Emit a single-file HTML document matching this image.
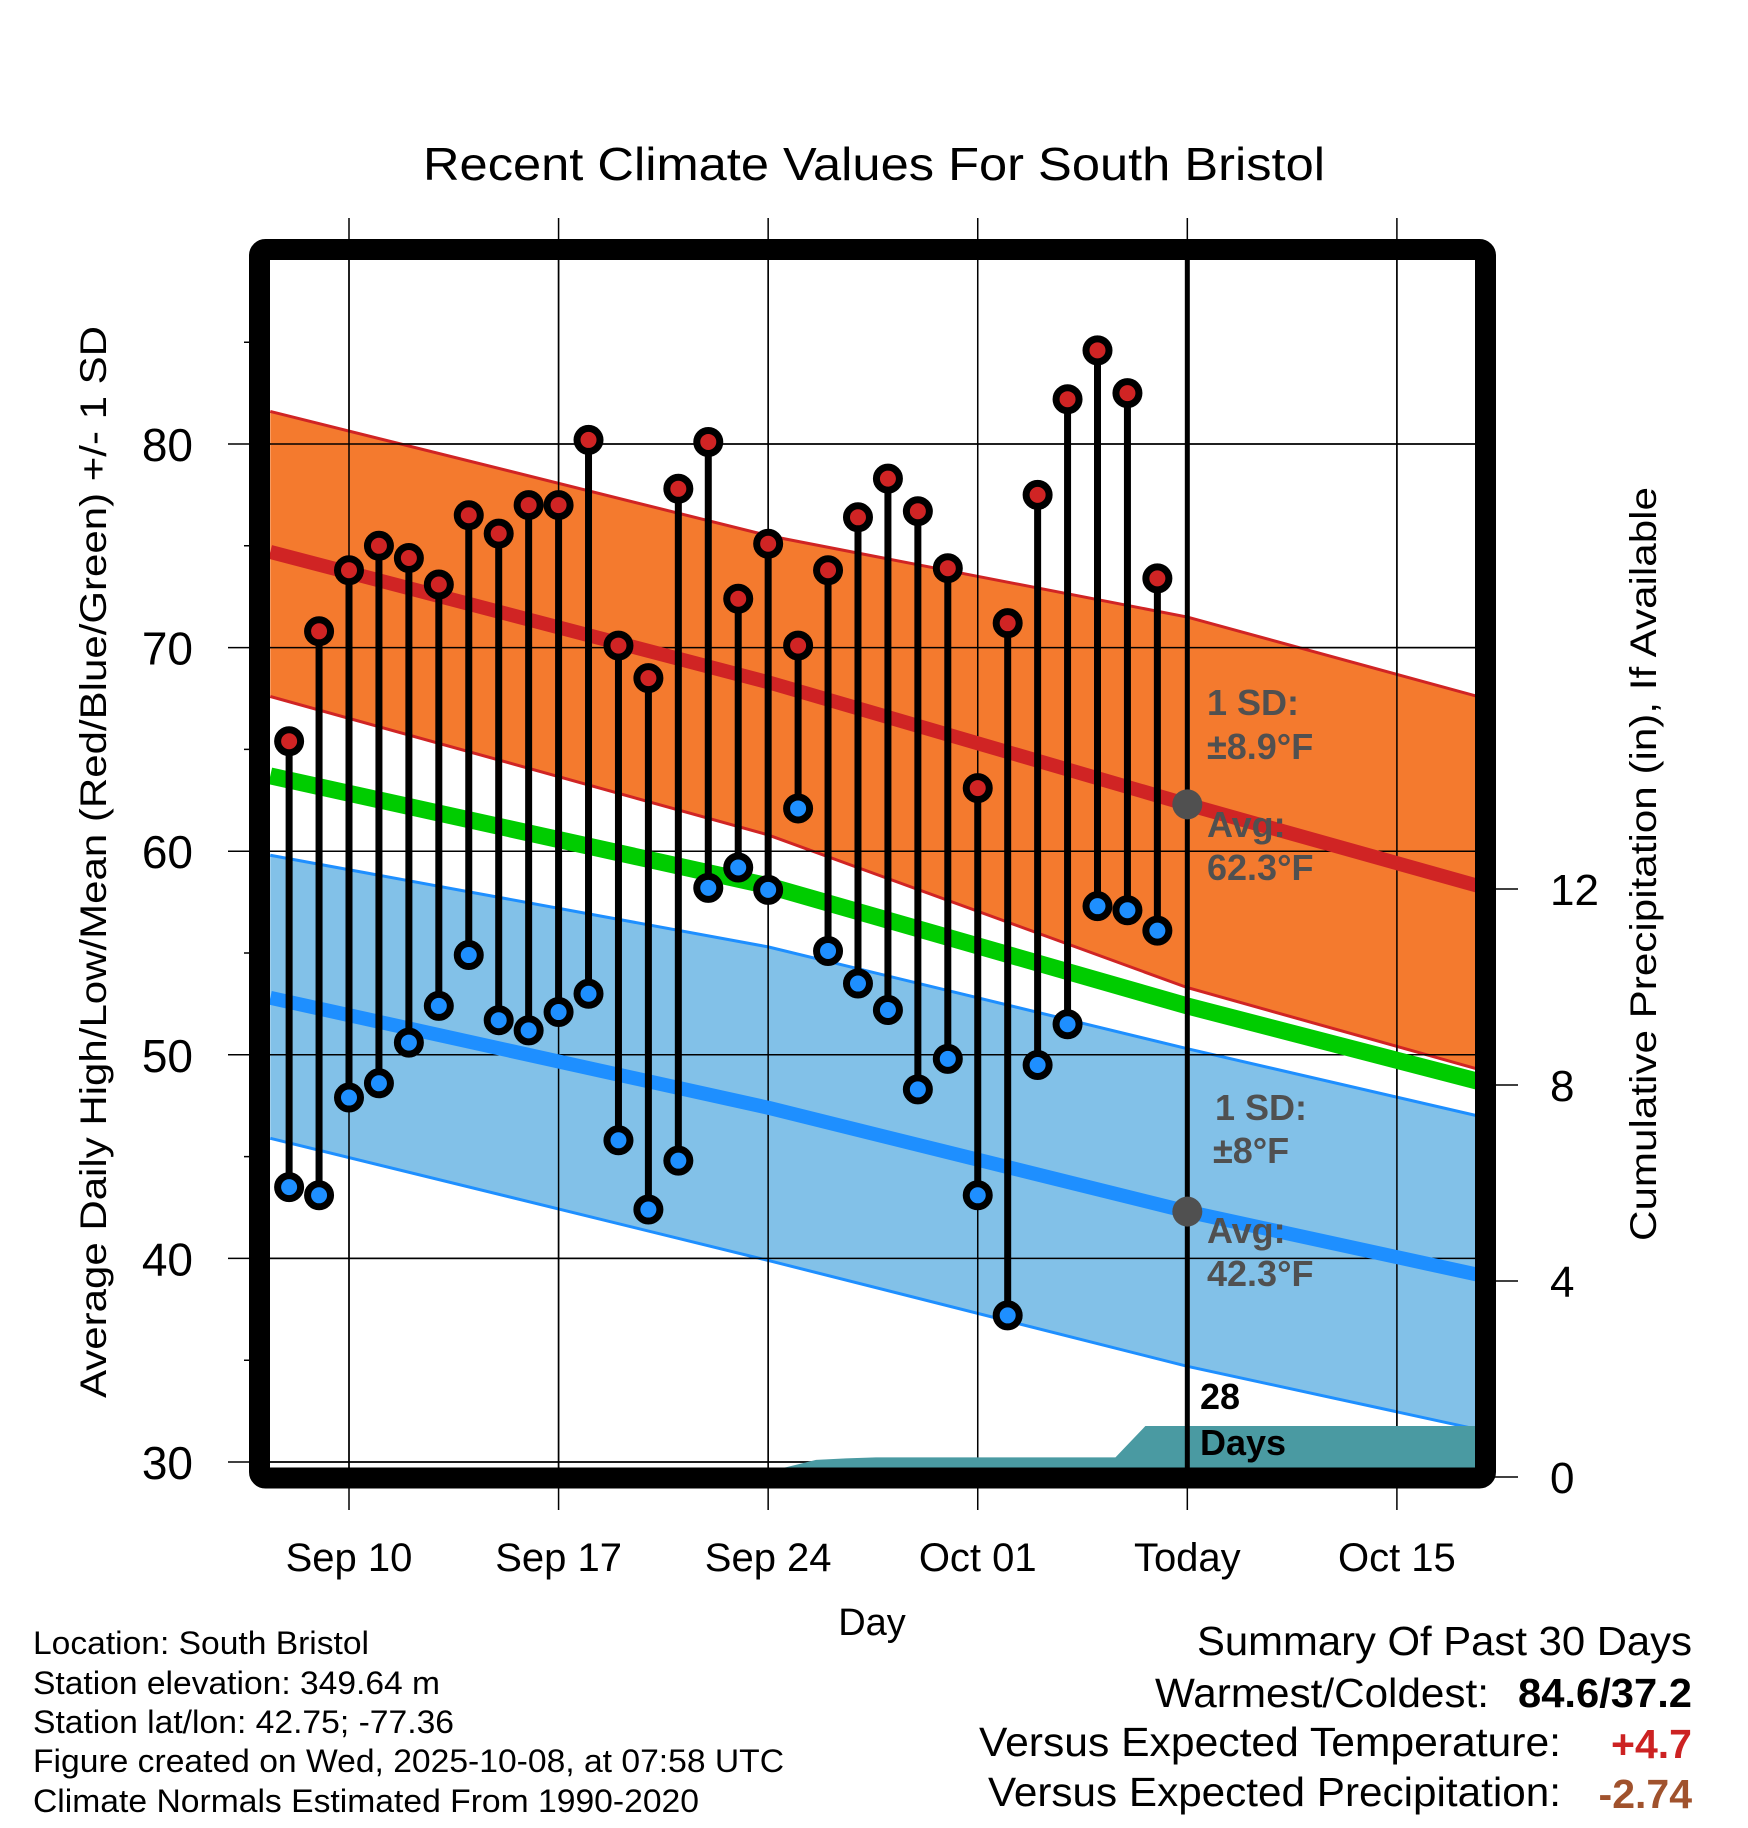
<!DOCTYPE html>
<html><head><meta charset="utf-8"><style>
html,body{margin:0;padding:0;background:#fff;}
svg{display:block;font-family:"Liberation Sans",Arial,sans-serif;}
</style></head><body>
<svg id="chart" width="1748" height="1828" viewBox="0 0 1748 1828" xmlns="http://www.w3.org/2000/svg">
<defs><clipPath id="plotclip"><rect x="270" y="260" width="1208" height="1208"/></clipPath></defs>
<rect x="0" y="0" width="1748" height="1828" fill="#fff"/>
<text x="874" y="180" font-size="46" text-anchor="middle" textLength="902" lengthAdjust="spacingAndGlyphs">Recent Climate Values For South Bristol</text>
<g id="grid"></g>
<g id="plot" clip-path="url(#plotclip)"></g>
<g id="marks"></g>
<rect x="259.5" y="249.5" width="1226" height="1228.5" fill="none" stroke="#000" stroke-width="21" rx="6"/>
<g id="axes"></g>
<text transform="translate(106,862) rotate(-90)" font-size="37" text-anchor="middle" textLength="1072" lengthAdjust="spacingAndGlyphs">Average Daily High/Low/Mean (Red/Blue/Green) +/- 1 SD</text>
<text transform="translate(1656,864) rotate(-90)" font-size="37" text-anchor="middle" textLength="754" lengthAdjust="spacingAndGlyphs">Cumulative Precipitation (in), If Available</text>
<text x="872" y="1635" font-size="38" text-anchor="middle">Day</text>
<g font-size="32">
<text x="33" y="1654" textLength="336" lengthAdjust="spacingAndGlyphs">Location: South Bristol</text>
<text x="33" y="1694" textLength="407" lengthAdjust="spacingAndGlyphs">Station elevation: 349.64 m</text>
<text x="33" y="1733" textLength="421" lengthAdjust="spacingAndGlyphs">Station lat/lon: 42.75; -77.36</text>
<text x="33" y="1772" textLength="751" lengthAdjust="spacingAndGlyphs">Figure created on Wed, 2025-10-08, at 07:58 UTC</text>
<text x="33" y="1812" textLength="666" lengthAdjust="spacingAndGlyphs">Climate Normals Estimated From 1990-2020</text>
</g>
<g font-size="41">
<text x="1692" y="1655" text-anchor="end" textLength="495" lengthAdjust="spacingAndGlyphs">Summary Of Past 30 Days</text>
<text x="1489" y="1707" text-anchor="end" textLength="334" lengthAdjust="spacingAndGlyphs">Warmest/Coldest:</text>
<text x="1692" y="1707" text-anchor="end" font-weight="bold" textLength="174" lengthAdjust="spacingAndGlyphs">84.6/37.2</text>
<text x="1561" y="1756" text-anchor="end" textLength="582" lengthAdjust="spacingAndGlyphs">Versus Expected Temperature:</text>
<text x="1692" y="1758" text-anchor="end" font-weight="bold" fill="#cc2222">+4.7</text>
<text x="1561" y="1806" text-anchor="end" textLength="573" lengthAdjust="spacingAndGlyphs">Versus Expected Precipitation:</text>
<text x="1692" y="1808" text-anchor="end" font-weight="bold" fill="#a0522d">-2.74</text>
</g>
</svg>
<script>
// ---- data ----
const highs = [65.4,70.8,73.8,75.0,74.4,73.1,76.5,75.6,77.0,77.0,80.2,70.1,68.5,77.8,80.1,72.4,75.1,70.1,73.8,76.4,78.3,76.7,73.9,63.1,71.2,77.5,82.2,84.6,82.5,73.4];
const lows  = [43.5,43.1,47.9,48.6,50.6,52.4,54.9,51.7,51.2,52.1,53.0,45.8,42.4,44.8,58.2,59.2,58.1,62.1,55.1,53.5,52.2,48.3,49.8,43.1,37.2,49.5,51.5,57.3,57.1,56.1];
const firstDay = -2; // Sep 8 relative to Sep 10
const normDays = [-2.63, 14, 28, 37.7];
const redUpper = [81.6, 75.5, 71.5, 67.6];
const redAvg   = [74.7, 68.3, 62.3, 58.3];
const redLower = [67.6, 60.8, 53.3, 49.3];
const greenAvg = [63.7, 58.3, 52.4, 48.7];
const blueUpper= [59.8, 55.3, 50.3, 47.0];
const blueAvg  = [52.8, 47.4, 42.3, 39.2];
const blueLower= [45.9, 39.9, 34.7, 31.6];
const precip = [0,0,0,0,0,0,0,0,0,0,0,0,0,0,0,0.1,0.2,0.35,0.38,0.4,0.4,0.4,0.4,0.4,0.4,0.4,0.4,0.4,1.04,1.04];
const xTickDays = [0,7,14,21,28,35];
const xTickLabels = ["Sep 10","Sep 17","Sep 24","Oct 01","Today","Oct 15"];
const yTicks = [30,40,50,60,70,80];
const yMinor = [35,45,55,65,75,85];
const y2Ticks = [0,4,8,12];
const todayDay = 28;

// ---- scales ----
const X = d => 349 + d*29.94;
const Y = v => 444 + (80 - v)*20.36;
const Y2 = p => 1477 - p*49;
const NS = "http://www.w3.org/2000/svg";
function mk(tag, attrs, parent){const e=document.createElementNS(NS,tag);for(const k in attrs)e.setAttribute(k,attrs[k]);parent.appendChild(e);return e;}
const grid=document.getElementById('grid'), plot=document.getElementById('plot'), marks=document.getElementById('marks'), axes=document.getElementById('axes');

xTickDays.forEach((d,i)=>{
  const l=mk('line',{x1:X(d),x2:X(d),y1:218,y2:1510,stroke:'#000','stroke-width':1.5},grid);
  
  
  const t=mk('text',{x:X(d),y:1571,'font-size':40,'text-anchor':'middle'},axes);
  t.textContent=xTickLabels[i];
  
  
});

function pts(arrU, arrL){let s=normDays.map((d,i)=>X(d)+','+Y(arrU[i]));if(arrL){s=s.concat(normDays.slice().reverse().map((d,j)=>{const i=normDays.length-1-j;return X(d)+','+Y(arrL[i]);}));}return s.join(' ');}
const bb=mk('polygon',{points:pts(blueUpper,blueLower),fill:'#82c1e8'},plot);


[blueUpper,blueLower].forEach(a=>{const l=mk('polyline',{points:pts(a),fill:'none',stroke:'#1e8fff','stroke-width':3},plot);

});
const rb=mk('polygon',{points:pts(redUpper,redLower),fill:'#f47a2e'},plot);


[redUpper,redLower].forEach(a=>{const l=mk('polyline',{points:pts(a),fill:'none',stroke:'#d02424','stroke-width':3},plot);

});
yTicks.forEach(v=>{
  const l=mk('line',{x1:228,x2:1478,y1:Y(v),y2:Y(v),stroke:'#000','stroke-width':1.5},grid);
  
  
  const t=mk('text',{x:193,y:Y(v)+17,'font-size':46,'text-anchor':'end'},axes);
  t.textContent=v;
  
  
});
yMinor.forEach(v=>{const l=mk('line',{x1:244,x2:262,y1:Y(v),y2:Y(v),stroke:'#000','stroke-width':1.5},grid);

});
y2Ticks.forEach(p=>{
  const l=mk('line',{x1:1490,x2:1518,y1:Y2(p),y2:Y2(p),stroke:'#000','stroke-width':1.5},axes);
  
  
  const t=mk('text',{x:1550,y:Y2(p)+16,'font-size':44},axes);
  t.textContent=p;
  
  
});
yTicks.forEach(v=>{mk('line',{x1:270,x2:1478,y1:Y(v),y2:Y(v),stroke:'#000','stroke-width':1.5},plot);});
xTickDays.forEach(d=>{mk('line',{x1:X(d),x2:X(d),y1:260,y2:1468,stroke:'#000','stroke-width':1.5},plot);});
const gl=mk('polyline',{points:pts(greenAvg),fill:'none',stroke:'#00cc00','stroke-width':17},plot);


const rl=mk('polyline',{points:pts(redAvg),fill:'none',stroke:'#d02424','stroke-width':14},plot);


const bl=mk('polyline',{points:pts(blueAvg),fill:'none',stroke:'#1e8fff','stroke-width':14},plot);


let pp=[X(firstDay+0.6)+','+Y2(0)];
precip.forEach((p,i)=>pp.push(X(firstDay+i+0.6)+','+Y2(p)));
pp.push('1478,'+Y2(precip[precip.length-1]));pp.push('1478,'+Y2(0));
const pa=mk('polygon',{points:pp.join(' '),fill:'#4a9aa2'},plot);


const tl=mk('line',{x1:X(todayDay),x2:X(todayDay),y1:260,y2:1468,stroke:'#000','stroke-width':5},plot);



highs.forEach((h,i)=>{
  const x=X(firstDay+i);
  const s=mk('line',{x1:x,x2:x,y1:Y(h),y2:Y(lows[i]),stroke:'#000','stroke-width':7},marks);
  
  
});
highs.forEach((h,i)=>{
  const x=X(firstDay+i);
  const c1=mk('circle',{cx:x,cy:Y(h),r:11.5,fill:'#d02424',stroke:'#000','stroke-width':7},marks);
  
  
  const c2=mk('circle',{cx:x,cy:Y(lows[i]),r:11.5,fill:'#1e8fff',stroke:'#000','stroke-width':7},marks);
  
  
});
[redAvg[2],blueAvg[2]].forEach(v=>{const c=mk('circle',{cx:X(todayDay),cy:Y(v),r:15,fill:'#505050'},marks);

});
const ann=[["1 SD:",1207,715,'#505050'],["±8.9°F",1207,759,'#505050'],["Avg:",1207,837,'#505050'],["62.3°F",1207,880,'#505050'],
["1 SD:",1215,1120,'#505050'],["±8°F",1213,1163,'#505050'],["Avg:",1207,1243,'#505050'],["42.3°F",1207,1286,'#505050'],
["28",1200,1409,'#000'],["Days",1200,1455,'#000']];
ann.forEach(a=>{const t=mk('text',{x:a[1],y:a[2],'font-size':36,'font-weight':'bold',fill:a[3]},marks);t.textContent=a[0];

});
</script>
</body></html>
